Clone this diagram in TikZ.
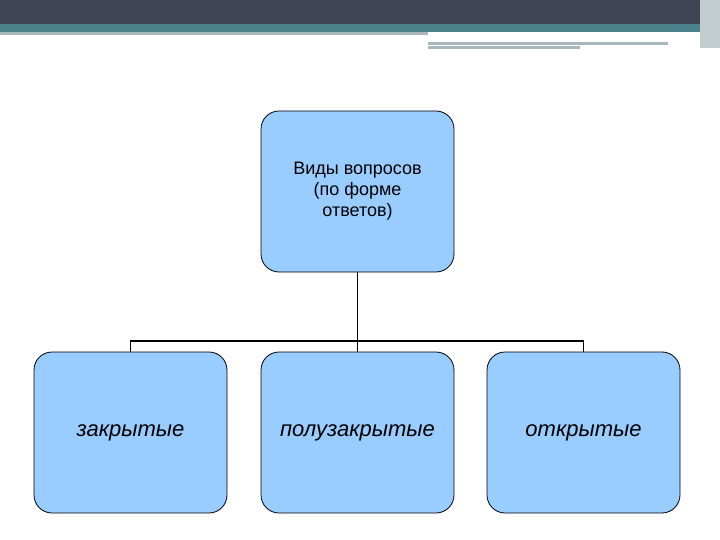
\documentclass[tikz,border=0pt]{standalone}
\usepackage{fontspec}
\setmainfont{Liberation Sans}
\begin{document}
\begin{tikzpicture}[x=1pt,y=-1pt,
  box/.style={draw=black,line width=0.8pt,fill=boxblue,rounded corners=18pt,minimum width=193pt,minimum height=161pt,inner sep=0pt,align=center},
  conn/.style={line width=1.8pt,draw=black}]
\definecolor{boxblue}{HTML}{99CCFF}
\definecolor{dark}{HTML}{3F4454}
\definecolor{teal}{HTML}{4A8289}
\definecolor{lgray}{HTML}{A9B8BC}
\useasboundingbox (0,0) rectangle (720,540);
\fill[white] (0,0) rectangle (720,540);
\fill[dark] (0,0) rectangle (720,24);
\fill[teal] (0,24) rectangle (710,32);
\fill[lgray] (0,32) rectangle (428,35);
\fill[lgray] (428,42) rectangle (668,45);
\fill[lgray] (428,46) rectangle (580,49);
\fill[lgray!70] (700,0) rectangle (720,48);
\node[box,font=\fontsize{18pt}{21pt}\selectfont] (top) at (357.5,191.5) {Виды вопросов\\(по форме\\ответов)};
\node[box,font=\itshape\fontsize{22pt}{26pt}\selectfont] (a) at (130.5,432.5) {закрытые};
\node[box,font=\itshape\fontsize{22pt}{26pt}\selectfont] (b) at (357.5,432.5) {полузакрытые};
\node[box,font=\itshape\fontsize{22pt}{26pt}\selectfont] (c) at (583.5,432.5) {открытые};
\coordinate (h) at (357.5,341);
\draw[conn] (top.south) -- (h);
\draw[conn] (a.north) |- (h) -| (c.north);
\draw[conn] (h) -- (b.north);
\end{tikzpicture}
\end{document}
